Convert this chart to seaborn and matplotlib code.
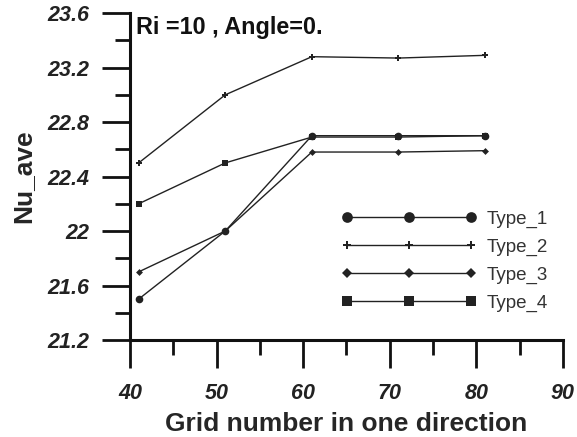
import numpy as np
import pandas as pd
import matplotlib
matplotlib.use("Agg")
import matplotlib.pyplot as plt
import seaborn as sns

# grid study values
grid = [41, 51, 61, 71, 81]
type_1 = [21.5, 22.0, 22.7, 22.7, 22.7]
type_2 = [22.5, 23.0, 23.28, 23.27, 23.29]
type_3 = [21.7, 22.0, 22.58, 22.58, 22.59]
type_4 = [22.2, 22.5, 22.69, 22.69, 22.70]
names = ["Type_1", "Type_2", "Type_3", "Type_4"]

sns.set_style("ticks")
plt.rcParams["font.family"] = ["Liberation Sans", "DejaVu Sans"]

df = pd.DataFrame({
    "grid": grid * 4,
    "nu": type_1 + type_2 + type_3 + type_4,
    "kind": [n for n in names for _ in grid],
})

fig = plt.figure(figsize=(5.77, 4.37), dpi=100)
ax = fig.add_axes([0.2253, 0.222, 0.7504, 0.748])

marks = {"Type_1": "o", "Type_2": "P", "Type_3": "D", "Type_4": "s"}
sizes = {"Type_1": 5.5, "Type_2": 4.5, "Type_3": 3.5, "Type_4": 5}
for n in names:
    sub = df[df["kind"] == n]
    sns.lineplot(data=sub, x="grid", y="nu", ax=ax, color="#222222", lw=1,
                 marker=marks[n], markersize=sizes[n], markeredgewidth=0,
                 label=n)

ax.set_xlim(40, 90)
ax.set_ylim(21.2, 23.6)
ax.set_xticks(np.arange(40, 91, 10))
ax.set_xticks(np.arange(45, 90, 10), minor=True)
ax.set_yticks(np.arange(21.2, 23.61, 0.4))
ax.set_yticks(np.arange(21.4, 23.6, 0.4), minor=True)
ax.set_yticklabels(["21.2", "21.6", "22", "22.4", "22.8", "23.2", "23.6"])

sns.despine(ax=ax)
for s in ["left", "bottom"]:
    ax.spines[s].set_linewidth(2.2)
    ax.spines[s].set_color("#111111")
ax.tick_params(which="major", length=20, width=2, color="#111111")
ax.tick_params(which="minor", length=10.5, width=2, color="#111111")
ax.tick_params(axis="x", which="major", pad=11)
ax.tick_params(axis="y", which="major", pad=9)
for lab in ax.get_xticklabels() + ax.get_yticklabels():
    lab.set_fontsize(15.5)
    lab.set_fontweight("bold")
    lab.set_fontstyle("italic")
    lab.set_color("#222222")

ax.set_xlabel("Grid number in one direction", fontsize=19, fontweight="bold", labelpad=6)
ax.set_ylabel("Nu_ave", fontsize=19, fontweight="bold", labelpad=9)
ax.text(0.015, 0.99, "Ri =10 , Angle=0.", transform=ax.transAxes, ha="left", va="top",
        fontsize=16.8, fontweight="bold", color="#111111")

leg = ax.legend(loc="center left", bbox_to_anchor=(0.45, 0.242), frameon=False,
                numpoints=3, markerscale=1.4, fontsize=13.5, handlelength=7.2,
                labelspacing=0.57, handletextpad=0.55)
for t in leg.get_texts():
    t.set_color("#333333")

fig.savefig("out.png", dpi=100)
